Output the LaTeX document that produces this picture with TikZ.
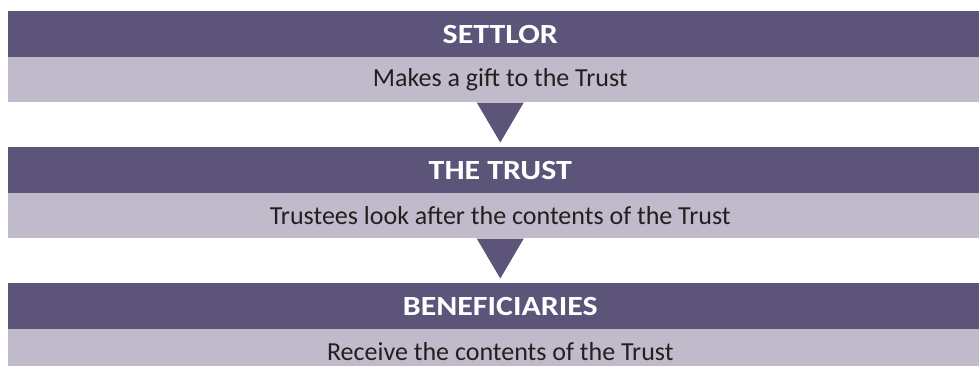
\documentclass[tikz,border=0pt]{standalone}
\usepackage{graphicx}
\usepackage{fontspec}
\setmainfont{Carlito}
\definecolor{darkbar}{RGB}{93,84,121}
\definecolor{lightbar}{RGB}{192,186,203}
\definecolor{bodytext}{RGB}{35,31,32}
\newcommand{\headtext}[1]{\scalebox{1.15}[1]{#1}}
\begin{document}
\begin{tikzpicture}[x=0.75pt,y=-0.75pt,
  headbar/.style={fill=darkbar,text=white,font=\bfseries\fontsize{20.8}{24}\selectfont,inner sep=0pt,anchor=north west,minimum width=985*0.75pt,minimum height=45.5*0.75pt},
  bodybar/.style={fill=lightbar,text=bodytext,font=\fontsize{19.5}{23}\selectfont,inner sep=0pt,anchor=north west,minimum width=985*0.75pt,minimum height=45.5*0.75pt},
  arrowtri/.style={fill=darkbar}]
\useasboundingbox (0,0) rectangle (979,365);
\clip (0,0) rectangle (979,365);
\node[headbar] (h1) at (7.5,11) {\headtext{SETTLOR}};
\node[bodybar] (b1) at (7.5,56.5) {Makes a gift to the Trust};
\node[headbar] (h2) at (7.5,147) {\headtext{THE TRUST}};
\node[bodybar] (b2) at (7.5,192.5) {Trustees look after the contents of the Trust};
\node[headbar] (h3) at (7.5,283) {\headtext{BENEFICIARIES}};
\node[bodybar] (b3) at (7.5,328.5) {Receive the contents of the Trust};
\coordinate (t1a) at ([xshift=-23.5*0.75pt]b1.south);
\coordinate (t1b) at ([xshift=23.5*0.75pt]b1.south);
\coordinate (t1c) at ([yshift=-40*0.75pt]b1.south);
\fill[arrowtri] (t1a) -- (t1b) -- (t1c) -- cycle;
\coordinate (t2a) at ([xshift=-23.5*0.75pt]b2.south);
\coordinate (t2b) at ([xshift=23.5*0.75pt]b2.south);
\coordinate (t2c) at ([yshift=-40*0.75pt]b2.south);
\fill[arrowtri] (t2a) -- (t2b) -- (t2c) -- cycle;
\end{tikzpicture}
\end{document}
